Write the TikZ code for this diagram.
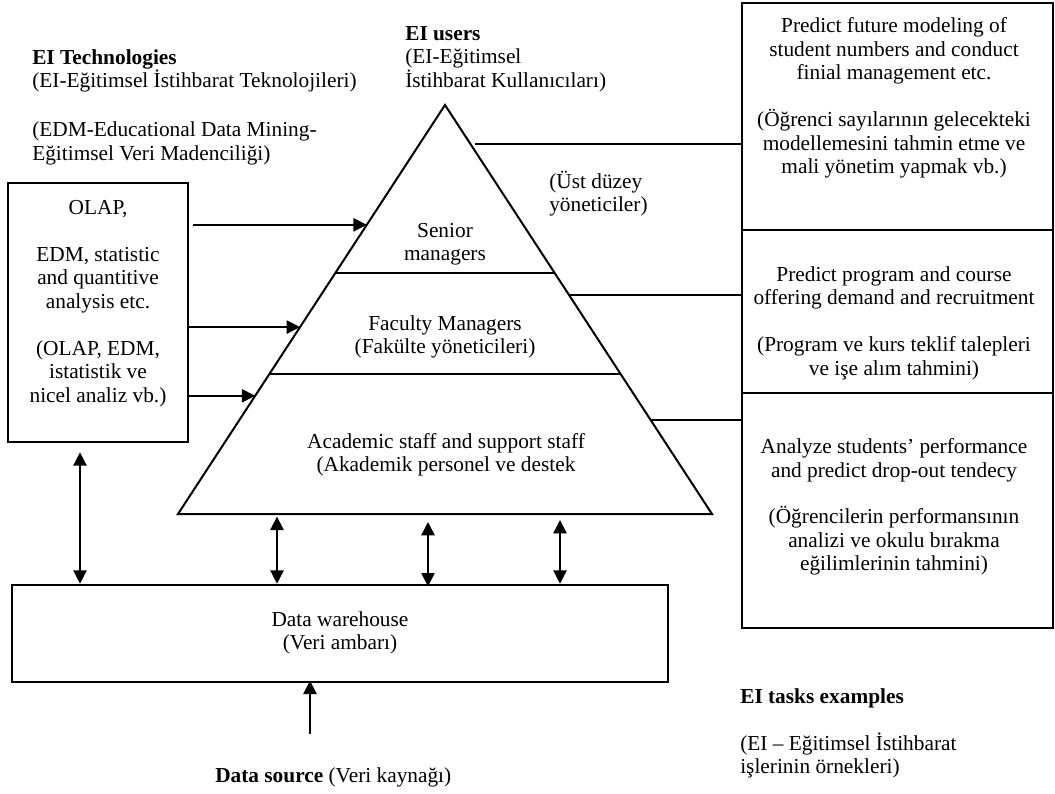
\documentclass[tikz,border=0pt]{standalone}
\usepackage{fontspec}
\setmainfont{Liberation Serif}
\usetikzlibrary{arrows.meta,calc}
\tikzset{
  txt/.style={inner sep=0pt, font=\fontsize{16pt}{17.6pt}\selectfont, align=center},
  ltxt/.style={txt, align=left, anchor=west},
  box/.style={draw, line width=1.5pt, inner sep=0pt},
  link/.style={line width=1.1pt},
  arr/.style={link, -{Triangle[length=10pt,width=10pt]}},
  darr/.style={link, {Triangle[length=10pt,width=10pt]}-{Triangle[length=10pt,width=10pt]}},
  divider/.style={line width=1.1pt},
}
\begin{document}
\begin{tikzpicture}[x=0.75pt,y=-0.75pt]
\path[use as bounding box] (0,0) rectangle (1055,793);

% headings
\node[ltxt] (techhead) at (32,71) {\textbf{EI Technologies}\\(EI-Eğitimsel İstihbarat Teknolojileri)};
\node[ltxt] (edm) at (32,143.5) {(EDM-Educational Data Mining-\\Eğitimsel Veri Madenciliği)};
\node[ltxt] (users) at (405,59) {\textbf{EI users}\\(EI-Eğitimsel\\İstihbarat Kullanıcıları)};

% technologies box
\node[box, minimum width=135pt, minimum height=194.25pt] (olap) at (98,312.5) {};
\node[txt] (olaptxt) at (98,303.5) {OLAP,\\[17.6pt] EDM, statistic\\ and quantitive\\ analysis etc.\\[17.6pt] (OLAP, EDM,\\ istatistik ve\\ nicel analiz vb.)};

% user pyramid
\coordinate (apex) at (445,105);
\coordinate (bl) at (178,514);
\coordinate (br) at (712,514);
\draw[line width=1.5pt, line join=miter] (apex) -- (br) -- (bl) -- cycle;
\draw[divider] ($(apex)!0.411!(bl)$) -- ($(apex)!0.411!(br)$);
\draw[divider] ($(apex)!0.658!(bl)$) -- ($(apex)!0.658!(br)$);

\node[txt] (senior) at (445,244) {Senior\\managers};
\node[ltxt] (ust) at (549,193.5) {(Üst düzey\\yöneticiler)};
\node[txt] (faculty) at (445,337) {Faculty Managers\\(Fakülte yöneticileri)};
\node[txt] (academic) at (446,455) {Academic staff and support staff\\(Akademik personel ve destek};

% task examples
\node[box, minimum width=233.25pt, minimum height=170.25pt] (t1) at (897.5,116.5) {};
\node[box, minimum width=233.25pt, minimum height=122.25pt] (t2) at (897.5,311.5) {};
\node[box, minimum width=233.25pt, minimum height=176.25pt] (t3) at (897.5,510.5) {};
\node[txt] (t1txt) at (894,98) {Predict future modeling of\\ student numbers and conduct\\ finial management etc.\\[17.6pt] (Öğrenci sayılarının gelecekteki\\ modellemesini tahmin etme ve\\ mali yönetim yapmak vb.)};
\node[txt] (t2txt) at (894,323) {Predict program and course\\ offering demand and recruitment\\[17.6pt] (Program ve kurs teklif talepleri\\ ve işe alım tahmini)};
\node[txt] (t3txt) at (894,507) {Analyze students’ performance\\ and predict drop-out tendecy\\[17.6pt] (Öğrencilerin performansının\\ analizi ve okulu bırakma\\ eğilimlerinin tahmini)};

% data warehouse
\node[draw, line width=2pt, inner sep=0pt, minimum width=492pt, minimum height=72.75pt] (dw) at (340,633.5) {};
\node[txt] (dwtxt) at (340,633) {Data warehouse\\(Veri ambarı)};

\node[ltxt] (tasks) at (740,698) {\textbf{EI tasks examples}};
\node[ltxt] (taskstr) at (740,755.5) {(EI – Eğitimsel İstihbarat\\işlerinin örnekleri)};
\node[ltxt] (source) at (215,777) {\textbf{Data source} (Veri kaynağı)};

% pyramid levels to task examples
\coordinate (r1) at ($(apex)!0.095!(br)$);
\coordinate (r2) at ($(apex)!0.465!(br)$);
\coordinate (r3) at ($(apex)!0.770!(br)$);
\draw[link, shorten <=3.5pt] (r1) -- (r1 -| t1.west);
\draw[link] (r2) -- (r2 -| t2.west);
\draw[link] (r3) -- (r3 -| t3.west);

% technologies to pyramid levels
\coordinate (la1) at ($(apex)!0.293!(bl)$);
\coordinate (la2) at ($(apex)!0.543!(bl)$);
\coordinate (la3) at ($(apex)!0.711!(bl)$);
\draw[arr, shorten <=3pt] (la1 -| olap.east) -- (la1);
\draw[arr] (la2 -| olap.east) -- (la2);
\draw[arr] (la3 -| olap.east) -- (la3);

% exchanges with the data warehouse
\coordinate (v1) at (80,0);
\coordinate (v2) at (277,0);
\coordinate (v3) at (428,0);
\coordinate (v4) at (560,0);
\draw[darr, shorten <=7pt] (v1 |- olap.south) -- (v1 |- dw.north);
\draw[darr, shorten <=2pt] (v2 |- bl) -- (v2 |- dw.north);
\draw[darr, shorten <=6pt, shorten >=-2pt] (v3 |- bl) -- (v3 |- dw.north);
\draw[darr, shorten <=4.5pt] (v4 |- bl) -- (v4 |- dw.north);

% data source feed
\coordinate (src) at (310,734);
\draw[arr, shorten >=-2pt] (src) -- (src |- dw.south);
\end{tikzpicture}
\end{document}
